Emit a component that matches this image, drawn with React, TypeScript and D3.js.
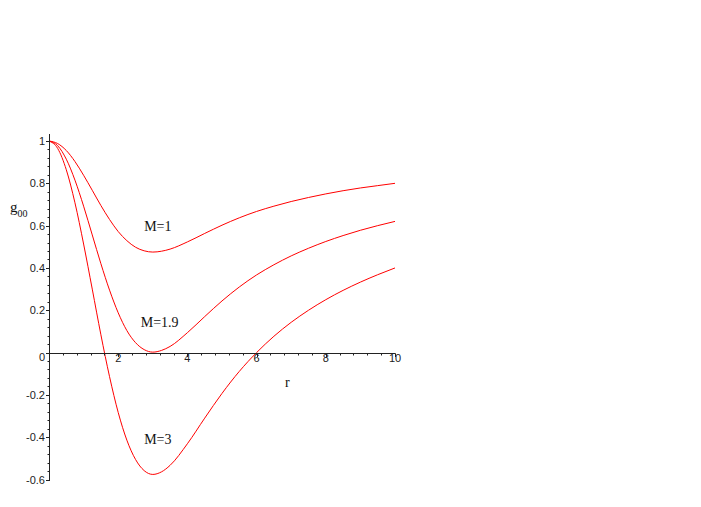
import React from "react";
import * as d3 from "d3";

const rValues = [0, 0.25, 0.5, 0.75, 1, 1.25, 1.5, 1.75, 2, 2.25, 2.5, 2.75, 3, 3.25, 3.5, 4, 4.5, 5, 5.5, 6, 6.5, 7, 7.5, 8, 8.5, 9, 9.5, 10];
const gM1 = [1, 0.988, 0.955, 0.903, 0.838, 0.767, 0.695, 0.629, 0.572, 0.529, 0.498, 0.481, 0.475, 0.479, 0.489, 0.523, 0.563, 0.602, 0.637, 0.667, 0.692, 0.714, 0.733, 0.75, 0.765, 0.778, 0.789, 0.8];
const gM19 = [1, 0.978, 0.914, 0.815, 0.692, 0.556, 0.42, 0.295, 0.188, 0.104, 0.047, 0.014, 0.002, 0.01, 0.029, 0.094, 0.17, 0.244, 0.31, 0.367, 0.415, 0.457, 0.493, 0.525, 0.553, 0.578, 0.6, 0.62];
const gM3 = [1, 0.965, 0.864, 0.708, 0.513, 0.3, 0.084, -0.114, -0.283, -0.414, -0.505, -0.558, -0.576, -0.564, -0.533, -0.431, -0.31, -0.193, -0.089, 0.0, 0.077, 0.143, 0.2, 0.25, 0.294, 0.333, 0.368, 0.4];

const xTickValues = [2, 4, 6, 8, 10];
const xTickLabels = ["2", "4", "6", "8", "10"];
const yTickValues = [1, 0.8, 0.6, 0.4, 0.2, 0, -0.2, -0.4, -0.6];
const yTickLabels = ["1", "0.8", "0.6", "0.4", "0.2", "0", "-0.2", "-0.4", "-0.6"];

const curveLabels = [
  { text: "M=1", r: 2.75, g: 0.575 },
  { text: "M=1.9", r: 2.65, g: 0.12 },
  { text: "M=3", r: 2.75, g: -0.43 },
];

export default function App() {
  const W = 701, H = 507;
  const x = d3.scaleLinear().domain([0, 10]).range([49, 395]);
  const y = d3.scaleLinear().domain([-0.6, 1]).range([479.5, 141]);
  const line = d3
    .line<number>()
    .x((_, i) => x(rValues[i]))
    .y((d) => y(d))
    .curve(d3.curveMonotoneX);

  const x0 = Math.round(x(0)) + 0.5;
  const y0 = Math.round(y(0)) + 0.5;
  const xMinor = d3.range(0, 10.001, 0.4);
  const yMinor = d3.range(-0.6, 1.001, 0.04);
  const series = [gM1, gM19, gM3];
  const axisColor = "#222";
  const tickFont = "'Liberation Sans', Arial, sans-serif";
  const serif = "'Liberation Serif', 'Times New Roman', serif";

  return (
    <svg width={W} height={H} style={{ position: "absolute", left: 0, top: 0, background: "#fff" }}>
      <rect x={0} y={0} width={W} height={H} fill="#fff" />
      {series.map((s, i) => (
        <path key={i} d={line(s) || ""} fill="none" stroke="#ff0000" strokeWidth={1} />
      ))}
      {/* axes */}
      <line x1={x0} x2={x0} y1={134} y2={481} stroke={axisColor} strokeWidth={1} />
      <line x1={x(0)} x2={x(10)} y1={y0} y2={y0} stroke={axisColor} strokeWidth={1} />
      {xMinor.map((v, i) => (
        <line key={"xm" + i} x1={Math.round(x(v)) + 0.5} x2={Math.round(x(v)) + 0.5} y1={y0} y2={y0 + 2} stroke={axisColor} strokeWidth={1} />
      ))}
      {xTickValues.map((v, i) => (
        <g key={"xt" + i}>
          <line x1={Math.round(x(v)) + 0.5} x2={Math.round(x(v)) + 0.5} y1={y0} y2={y0 + 3.5} stroke={axisColor} strokeWidth={1} />
          <text x={x(v)} y={362} textAnchor="middle" fontFamily={tickFont} fontSize={11} fill="#222">
            {xTickLabels[i]}
          </text>
        </g>
      ))}
      {yMinor.map((v, i) => (
        <line key={"ym" + i} x1={x0 - 2} x2={x0} y1={Math.round(y(v)) + 0.5} y2={Math.round(y(v)) + 0.5} stroke={axisColor} strokeWidth={1} />
      ))}
      {yTickValues.map((v, i) => (
        <g key={"yt" + i}>
          <line x1={x0 - 3.5} x2={x0} y1={Math.round(y(v)) + 0.5} y2={Math.round(y(v)) + 0.5} stroke={axisColor} strokeWidth={1} />
          <text
            x={45}
            y={v === 0 ? 361 : y(v) + 4}
            textAnchor="end"
            fontFamily={tickFont}
            fontSize={11}
            fill="#222"
          >
            {yTickLabels[i]}
          </text>
        </g>
      ))}
      {/* axis titles */}
      <text x={10} y={212} fontFamily={serif} fontSize={15} fill="#111">
        g
        <tspan fontSize={10} dy={5}>00</tspan>
      </text>
      <text x={285} y={387} fontFamily={serif} fontSize={14} fill="#111">
        r
      </text>
      {curveLabels.map((c, i) => (
        <text key={"cl" + i} x={x(c.r)} y={y(c.g)} fontFamily={serif} fontSize={14} fill="#111">
          {c.text}
        </text>
      ))}
    </svg>
  );
}
